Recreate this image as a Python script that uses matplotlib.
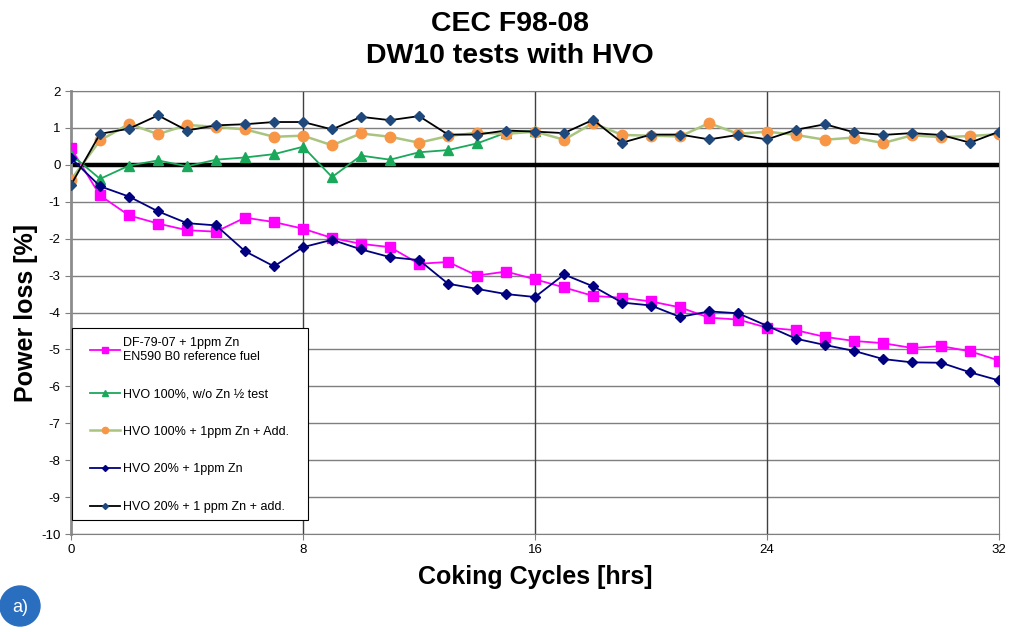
import matplotlib.pyplot as plt
from matplotlib.patches import Ellipse, Rectangle

plt.rcParams["font.family"] = ["Liberation Sans", "DejaVu Sans"]
plt.rcParams["axes.unicode_minus"] = False

hours = list(range(33))
hours_half = list(range(17))

df79_zn = [0.45, -0.83, -1.37, -1.59, -1.77, -1.81, -1.43, -1.55, -1.73, -1.98,
           -2.14, -2.23, -2.68, -2.63, -3.00, -2.89, -3.10, -3.32, -3.55, -3.60,
           -3.70, -3.86, -4.14, -4.19, -4.41, -4.48, -4.66, -4.77, -4.83, -4.96,
           -4.91, -5.05, -5.30]
hvo100_nozn = [0.28, -0.38, -0.02, 0.12, -0.04, 0.14, 0.20, 0.29, 0.49, -0.33,
               0.25, 0.14, 0.34, 0.40, 0.58, 0.87, 0.92]
hvo100_zn_add = [-0.40, 0.66, 1.11, 0.83, 1.08, 1.03, 0.96, 0.76, 0.79, 0.53,
                 0.85, 0.76, 0.60, 0.78, 0.87, 0.84, 0.90, 0.68, 1.13, 0.81,
                 0.79, 0.77, 1.13, 0.84, 0.90, 0.81, 0.68, 0.74, 0.59, 0.80,
                 0.75, 0.78, 0.83]
hvo20_zn = [0.18, -0.58, -0.86, -1.26, -1.58, -1.64, -2.34, -2.75, -2.23, -2.03,
            -2.29, -2.50, -2.58, -3.22, -3.36, -3.50, -3.58, -2.97, -3.29, -3.73,
            -3.81, -4.12, -3.97, -4.02, -4.36, -4.71, -4.88, -5.04, -5.26, -5.35,
            -5.36, -5.62, -5.84]
hvo20_zn_add = [-0.54, 0.84, 0.98, 1.34, 0.93, 1.07, 1.10, 1.16, 1.16, 0.96,
                1.30, 1.21, 1.32, 0.82, 0.82, 0.93, 0.90, 0.86, 1.22, 0.60,
                0.82, 0.82, 0.69, 0.81, 0.69, 0.95, 1.10, 0.88, 0.81, 0.86,
                0.81, 0.60, 0.90]

fig = plt.figure(figsize=(10.12, 6.32), dpi=100)
ax = fig.add_axes([0.0702, 0.155, 0.917, 0.701])

# grid
for y in range(-10, 3):
    ax.axhline(y, color="#7f7f7f", lw=1.0, zorder=1)
for x in (8, 16, 24):
    ax.axvline(x, color="#404040", lw=1.0, zorder=1)
ax.axhline(0, color="black", lw=3.2, zorder=2)

ax.plot(hours, df79_zn, color="#ff00ff", marker="s", ms=7, lw=1.3,
        label="DF-79-07 + 1ppm Zn\nEN590 B0 reference fuel", zorder=3)
ax.plot(hours_half, hvo100_nozn, color="#1aa85a", marker="^", ms=7, lw=1.3,
        label="HVO 100%, w/o Zn \u00bd test", zorder=3)
ax.plot(hours, hvo100_zn_add, color="#a9c47f", marker="o", ms=7.5, lw=1.8,
        mfc="#f79646", mec="#f79646", label="HVO 100% + 1ppm Zn + Add.", zorder=3)
ax.plot(hours, hvo20_zn, color="#000080", marker="D", ms=5, lw=1.3,
        label="HVO 20% + 1ppm Zn", zorder=3)
ax.plot(hours, hvo20_zn_add, color="black", marker="D", ms=5, lw=1.3,
        mfc="#1f497d", mec="#1f497d", label="HVO 20% + 1 ppm Zn + add.", zorder=4)

ax.set_xlim(0, 32)
ax.set_ylim(-10, 2)
ax.set_xticks([0, 8, 16, 24, 32])
ax.set_yticks(range(-10, 3))
ax.tick_params(labelsize=9.5, length=4, color="#7f7f7f", direction="out")
for side in ("top", "right", "bottom"):
    ax.spines[side].set_color("#7f7f7f")
ax.spines["left"].set_color("#8c8c8c")
ax.spines["left"].set_linewidth(2)

ax.set_title("CEC F98-08\nDW10 tests with HVO", fontsize=20.5, fontweight="bold",
             pad=20, linespacing=1.3, x=0.473)
ax.set_xlabel("Coking Cycles [hrs]", fontsize=18, fontweight="bold", labelpad=6)
ax.set_ylabel("Power loss [%]", fontsize=18, fontweight="bold", labelpad=2)

# legend box drawn separately so the entries can sit further in from the edge
ax.add_patch(Rectangle((0.001, 0.032), 0.254, 0.433, transform=ax.transAxes,
                       facecolor="white", edgecolor="black", lw=0.8, zorder=9))
leg = ax.legend(loc="upper left", bbox_to_anchor=(0.0115, 0.465),
                borderaxespad=0, fontsize=9, labelspacing=2.05,
                handlelength=2.4, handletextpad=0.2, borderpad=0.7,
                frameon=False, markerscale=0.6)
leg.set_zorder(10)

fig.patches.append(Ellipse((20 / 1012, 1 - 606 / 632), 40 / 1012, 40 / 632,
                           transform=fig.transFigure, color="#2a6ebf"))
fig.text(20 / 1012, 1 - 607 / 632, "a)", color="white", fontsize=13,
         ha="center", va="center")

fig.savefig("out.png", dpi=100)
